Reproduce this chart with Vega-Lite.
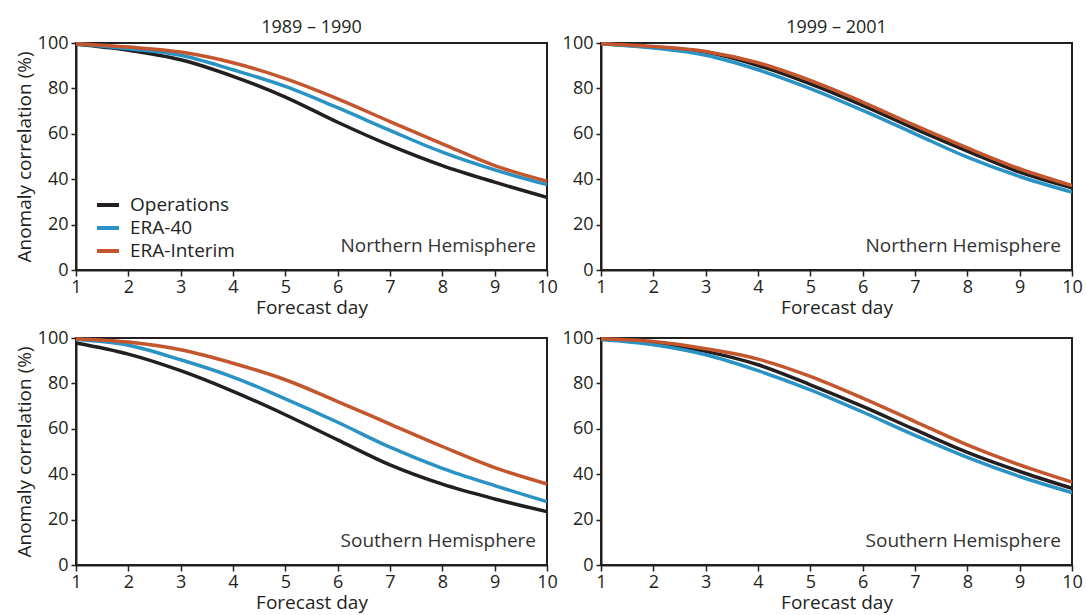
{
  "$schema": "https://vega.github.io/schema/vega-lite/v6.json",
  "padding": {"left": 14, "top": 18, "right": 4, "bottom": 0},
  "background": "white",
  "config": {
    "font": "Open Sans",
    "view": {"stroke": "#231f20", "strokeWidth": 2},
    "axis": {
      "domainColor": "#231f20", "domainWidth": 2,
      "tickColor": "#231f20", "tickWidth": 1.5, "tickSize": 6,
      "labelFont": "Open Sans", "labelFontSize": 18, "labelColor": "#231f20",
      "titleFont": "Open Sans", "titleFontSize": 19, "titleFontWeight": "normal", "titleColor": "#231f20",
      "grid": false
    },
    "title": {"font": "Open Sans", "fontSize": 18, "fontWeight": "normal", "color": "#231f20", "offset": -3}
  },
  "data": {"values": [
    {"period": "1989 – 1990", "hemi": "Northern Hemisphere", "series": "Operations", "day": 1, "ac": 99.4},
    {"period": "1989 – 1990", "hemi": "Northern Hemisphere", "series": "Operations", "day": 2, "ac": 96.8},
    {"period": "1989 – 1990", "hemi": "Northern Hemisphere", "series": "Operations", "day": 3, "ac": 92.6},
    {"period": "1989 – 1990", "hemi": "Northern Hemisphere", "series": "Operations", "day": 4, "ac": 85.3},
    {"period": "1989 – 1990", "hemi": "Northern Hemisphere", "series": "Operations", "day": 5, "ac": 76.2},
    {"period": "1989 – 1990", "hemi": "Northern Hemisphere", "series": "Operations", "day": 6, "ac": 65.1},
    {"period": "1989 – 1990", "hemi": "Northern Hemisphere", "series": "Operations", "day": 7, "ac": 54.9},
    {"period": "1989 – 1990", "hemi": "Northern Hemisphere", "series": "Operations", "day": 8, "ac": 46.0},
    {"period": "1989 – 1990", "hemi": "Northern Hemisphere", "series": "Operations", "day": 9, "ac": 38.7},
    {"period": "1989 – 1990", "hemi": "Northern Hemisphere", "series": "Operations", "day": 10, "ac": 32.0},
    {"period": "1989 – 1990", "hemi": "Northern Hemisphere", "series": "ERA-40", "day": 1, "ac": 99.7},
    {"period": "1989 – 1990", "hemi": "Northern Hemisphere", "series": "ERA-40", "day": 2, "ac": 97.5},
    {"period": "1989 – 1990", "hemi": "Northern Hemisphere", "series": "ERA-40", "day": 3, "ac": 94.6},
    {"period": "1989 – 1990", "hemi": "Northern Hemisphere", "series": "ERA-40", "day": 4, "ac": 88.2},
    {"period": "1989 – 1990", "hemi": "Northern Hemisphere", "series": "ERA-40", "day": 5, "ac": 80.9},
    {"period": "1989 – 1990", "hemi": "Northern Hemisphere", "series": "ERA-40", "day": 6, "ac": 71.5},
    {"period": "1989 – 1990", "hemi": "Northern Hemisphere", "series": "ERA-40", "day": 7, "ac": 61.5},
    {"period": "1989 – 1990", "hemi": "Northern Hemisphere", "series": "ERA-40", "day": 8, "ac": 51.9},
    {"period": "1989 – 1990", "hemi": "Northern Hemisphere", "series": "ERA-40", "day": 9, "ac": 44.1},
    {"period": "1989 – 1990", "hemi": "Northern Hemisphere", "series": "ERA-40", "day": 10, "ac": 37.6},
    {"period": "1989 – 1990", "hemi": "Northern Hemisphere", "series": "ERA-Interim", "day": 1, "ac": 99.7},
    {"period": "1989 – 1990", "hemi": "Northern Hemisphere", "series": "ERA-Interim", "day": 2, "ac": 98.2},
    {"period": "1989 – 1990", "hemi": "Northern Hemisphere", "series": "ERA-Interim", "day": 3, "ac": 96.0},
    {"period": "1989 – 1990", "hemi": "Northern Hemisphere", "series": "ERA-Interim", "day": 4, "ac": 91.3},
    {"period": "1989 – 1990", "hemi": "Northern Hemisphere", "series": "ERA-Interim", "day": 5, "ac": 84.3},
    {"period": "1989 – 1990", "hemi": "Northern Hemisphere", "series": "ERA-Interim", "day": 6, "ac": 75.4},
    {"period": "1989 – 1990", "hemi": "Northern Hemisphere", "series": "ERA-Interim", "day": 7, "ac": 65.4},
    {"period": "1989 – 1990", "hemi": "Northern Hemisphere", "series": "ERA-Interim", "day": 8, "ac": 55.6},
    {"period": "1989 – 1990", "hemi": "Northern Hemisphere", "series": "ERA-Interim", "day": 9, "ac": 46.0},
    {"period": "1989 – 1990", "hemi": "Northern Hemisphere", "series": "ERA-Interim", "day": 10, "ac": 39.1},

    {"period": "1999 – 2001", "hemi": "Northern Hemisphere", "series": "Operations", "day": 1, "ac": 99.7},
    {"period": "1999 – 2001", "hemi": "Northern Hemisphere", "series": "Operations", "day": 2, "ac": 98.2},
    {"period": "1999 – 2001", "hemi": "Northern Hemisphere", "series": "Operations", "day": 3, "ac": 96.0},
    {"period": "1999 – 2001", "hemi": "Northern Hemisphere", "series": "Operations", "day": 4, "ac": 90.1},
    {"period": "1999 – 2001", "hemi": "Northern Hemisphere", "series": "Operations", "day": 5, "ac": 82.0},
    {"period": "1999 – 2001", "hemi": "Northern Hemisphere", "series": "Operations", "day": 6, "ac": 72.5},
    {"period": "1999 – 2001", "hemi": "Northern Hemisphere", "series": "Operations", "day": 7, "ac": 62.2},
    {"period": "1999 – 2001", "hemi": "Northern Hemisphere", "series": "Operations", "day": 8, "ac": 52.4},
    {"period": "1999 – 2001", "hemi": "Northern Hemisphere", "series": "Operations", "day": 9, "ac": 43.1},
    {"period": "1999 – 2001", "hemi": "Northern Hemisphere", "series": "Operations", "day": 10, "ac": 36.2},
    {"period": "1999 – 2001", "hemi": "Northern Hemisphere", "series": "ERA-40", "day": 1, "ac": 99.7},
    {"period": "1999 – 2001", "hemi": "Northern Hemisphere", "series": "ERA-40", "day": 2, "ac": 97.8},
    {"period": "1999 – 2001", "hemi": "Northern Hemisphere", "series": "ERA-40", "day": 3, "ac": 94.6},
    {"period": "1999 – 2001", "hemi": "Northern Hemisphere", "series": "ERA-40", "day": 4, "ac": 88.2},
    {"period": "1999 – 2001", "hemi": "Northern Hemisphere", "series": "ERA-40", "day": 5, "ac": 79.9},
    {"period": "1999 – 2001", "hemi": "Northern Hemisphere", "series": "ERA-40", "day": 6, "ac": 70.3},
    {"period": "1999 – 2001", "hemi": "Northern Hemisphere", "series": "ERA-40", "day": 7, "ac": 60.0},
    {"period": "1999 – 2001", "hemi": "Northern Hemisphere", "series": "ERA-40", "day": 8, "ac": 49.7},
    {"period": "1999 – 2001", "hemi": "Northern Hemisphere", "series": "ERA-40", "day": 9, "ac": 41.2},
    {"period": "1999 – 2001", "hemi": "Northern Hemisphere", "series": "ERA-40", "day": 10, "ac": 34.3},
    {"period": "1999 – 2001", "hemi": "Northern Hemisphere", "series": "ERA-Interim", "day": 1, "ac": 99.7},
    {"period": "1999 – 2001", "hemi": "Northern Hemisphere", "series": "ERA-Interim", "day": 2, "ac": 98.5},
    {"period": "1999 – 2001", "hemi": "Northern Hemisphere", "series": "ERA-Interim", "day": 3, "ac": 96.3},
    {"period": "1999 – 2001", "hemi": "Northern Hemisphere", "series": "ERA-Interim", "day": 4, "ac": 91.3},
    {"period": "1999 – 2001", "hemi": "Northern Hemisphere", "series": "ERA-Interim", "day": 5, "ac": 83.5},
    {"period": "1999 – 2001", "hemi": "Northern Hemisphere", "series": "ERA-Interim", "day": 6, "ac": 74.0},
    {"period": "1999 – 2001", "hemi": "Northern Hemisphere", "series": "ERA-Interim", "day": 7, "ac": 63.7},
    {"period": "1999 – 2001", "hemi": "Northern Hemisphere", "series": "ERA-Interim", "day": 8, "ac": 53.8},
    {"period": "1999 – 2001", "hemi": "Northern Hemisphere", "series": "ERA-Interim", "day": 9, "ac": 44.6},
    {"period": "1999 – 2001", "hemi": "Northern Hemisphere", "series": "ERA-Interim", "day": 10, "ac": 37.2},

    {"period": "1989 – 1990", "hemi": "Southern Hemisphere", "series": "Operations", "day": 1, "ac": 97.8},
    {"period": "1989 – 1990", "hemi": "Southern Hemisphere", "series": "Operations", "day": 2, "ac": 92.9},
    {"period": "1989 – 1990", "hemi": "Southern Hemisphere", "series": "Operations", "day": 3, "ac": 85.6},
    {"period": "1989 – 1990", "hemi": "Southern Hemisphere", "series": "Operations", "day": 4, "ac": 76.5},
    {"period": "1989 – 1990", "hemi": "Southern Hemisphere", "series": "Operations", "day": 5, "ac": 66.2},
    {"period": "1989 – 1990", "hemi": "Southern Hemisphere", "series": "Operations", "day": 6, "ac": 55.1},
    {"period": "1989 – 1990", "hemi": "Southern Hemisphere", "series": "Operations", "day": 7, "ac": 44.1},
    {"period": "1989 – 1990", "hemi": "Southern Hemisphere", "series": "Operations", "day": 8, "ac": 35.6},
    {"period": "1989 – 1990", "hemi": "Southern Hemisphere", "series": "Operations", "day": 9, "ac": 29.1},
    {"period": "1989 – 1990", "hemi": "Southern Hemisphere", "series": "Operations", "day": 10, "ac": 23.5},
    {"period": "1989 – 1990", "hemi": "Southern Hemisphere", "series": "ERA-40", "day": 1, "ac": 99.3},
    {"period": "1989 – 1990", "hemi": "Southern Hemisphere", "series": "ERA-40", "day": 2, "ac": 96.8},
    {"period": "1989 – 1990", "hemi": "Southern Hemisphere", "series": "ERA-40", "day": 3, "ac": 90.4},
    {"period": "1989 – 1990", "hemi": "Southern Hemisphere", "series": "ERA-40", "day": 4, "ac": 82.8},
    {"period": "1989 – 1990", "hemi": "Southern Hemisphere", "series": "ERA-40", "day": 5, "ac": 73.2},
    {"period": "1989 – 1990", "hemi": "Southern Hemisphere", "series": "ERA-40", "day": 6, "ac": 62.9},
    {"period": "1989 – 1990", "hemi": "Southern Hemisphere", "series": "ERA-40", "day": 7, "ac": 51.9},
    {"period": "1989 – 1990", "hemi": "Southern Hemisphere", "series": "ERA-40", "day": 8, "ac": 42.6},
    {"period": "1989 – 1990", "hemi": "Southern Hemisphere", "series": "ERA-40", "day": 9, "ac": 35.0},
    {"period": "1989 – 1990", "hemi": "Southern Hemisphere", "series": "ERA-40", "day": 10, "ac": 27.9},
    {"period": "1989 – 1990", "hemi": "Southern Hemisphere", "series": "ERA-Interim", "day": 1, "ac": 99.7},
    {"period": "1989 – 1990", "hemi": "Southern Hemisphere", "series": "ERA-Interim", "day": 2, "ac": 98.2},
    {"period": "1989 – 1990", "hemi": "Southern Hemisphere", "series": "ERA-Interim", "day": 3, "ac": 94.8},
    {"period": "1989 – 1990", "hemi": "Southern Hemisphere", "series": "ERA-Interim", "day": 4, "ac": 88.9},
    {"period": "1989 – 1990", "hemi": "Southern Hemisphere", "series": "ERA-Interim", "day": 5, "ac": 81.6},
    {"period": "1989 – 1990", "hemi": "Southern Hemisphere", "series": "ERA-Interim", "day": 6, "ac": 72.0},
    {"period": "1989 – 1990", "hemi": "Southern Hemisphere", "series": "ERA-Interim", "day": 7, "ac": 62.1},
    {"period": "1989 – 1990", "hemi": "Southern Hemisphere", "series": "ERA-Interim", "day": 8, "ac": 52.2},
    {"period": "1989 – 1990", "hemi": "Southern Hemisphere", "series": "ERA-Interim", "day": 9, "ac": 42.9},
    {"period": "1989 – 1990", "hemi": "Southern Hemisphere", "series": "ERA-Interim", "day": 10, "ac": 35.7},

    {"period": "1999 – 2001", "hemi": "Southern Hemisphere", "series": "Operations", "day": 1, "ac": 99.7},
    {"period": "1999 – 2001", "hemi": "Southern Hemisphere", "series": "Operations", "day": 2, "ac": 97.8},
    {"period": "1999 – 2001", "hemi": "Southern Hemisphere", "series": "Operations", "day": 3, "ac": 94.1},
    {"period": "1999 – 2001", "hemi": "Southern Hemisphere", "series": "Operations", "day": 4, "ac": 88.2},
    {"period": "1999 – 2001", "hemi": "Southern Hemisphere", "series": "Operations", "day": 5, "ac": 79.4},
    {"period": "1999 – 2001", "hemi": "Southern Hemisphere", "series": "Operations", "day": 6, "ac": 69.9},
    {"period": "1999 – 2001", "hemi": "Southern Hemisphere", "series": "Operations", "day": 7, "ac": 59.6},
    {"period": "1999 – 2001", "hemi": "Southern Hemisphere", "series": "Operations", "day": 8, "ac": 49.6},
    {"period": "1999 – 2001", "hemi": "Southern Hemisphere", "series": "Operations", "day": 9, "ac": 41.2},
    {"period": "1999 – 2001", "hemi": "Southern Hemisphere", "series": "Operations", "day": 10, "ac": 33.8},
    {"period": "1999 – 2001", "hemi": "Southern Hemisphere", "series": "ERA-40", "day": 1, "ac": 99.3},
    {"period": "1999 – 2001", "hemi": "Southern Hemisphere", "series": "ERA-40", "day": 2, "ac": 97.0},
    {"period": "1999 – 2001", "hemi": "Southern Hemisphere", "series": "ERA-40", "day": 3, "ac": 92.6},
    {"period": "1999 – 2001", "hemi": "Southern Hemisphere", "series": "ERA-40", "day": 4, "ac": 85.6},
    {"period": "1999 – 2001", "hemi": "Southern Hemisphere", "series": "ERA-40", "day": 5, "ac": 77.2},
    {"period": "1999 – 2001", "hemi": "Southern Hemisphere", "series": "ERA-40", "day": 6, "ac": 67.4},
    {"period": "1999 – 2001", "hemi": "Southern Hemisphere", "series": "ERA-40", "day": 7, "ac": 57.1},
    {"period": "1999 – 2001", "hemi": "Southern Hemisphere", "series": "ERA-40", "day": 8, "ac": 47.4},
    {"period": "1999 – 2001", "hemi": "Southern Hemisphere", "series": "ERA-40", "day": 9, "ac": 39.0},
    {"period": "1999 – 2001", "hemi": "Southern Hemisphere", "series": "ERA-40", "day": 10, "ac": 31.9},
    {"period": "1999 – 2001", "hemi": "Southern Hemisphere", "series": "ERA-Interim", "day": 1, "ac": 99.7},
    {"period": "1999 – 2001", "hemi": "Southern Hemisphere", "series": "ERA-Interim", "day": 2, "ac": 98.5},
    {"period": "1999 – 2001", "hemi": "Southern Hemisphere", "series": "ERA-Interim", "day": 3, "ac": 95.3},
    {"period": "1999 – 2001", "hemi": "Southern Hemisphere", "series": "ERA-Interim", "day": 4, "ac": 90.7},
    {"period": "1999 – 2001", "hemi": "Southern Hemisphere", "series": "ERA-Interim", "day": 5, "ac": 83.1},
    {"period": "1999 – 2001", "hemi": "Southern Hemisphere", "series": "ERA-Interim", "day": 6, "ac": 73.5},
    {"period": "1999 – 2001", "hemi": "Southern Hemisphere", "series": "ERA-Interim", "day": 7, "ac": 63.2},
    {"period": "1999 – 2001", "hemi": "Southern Hemisphere", "series": "ERA-Interim", "day": 8, "ac": 52.9},
    {"period": "1999 – 2001", "hemi": "Southern Hemisphere", "series": "ERA-Interim", "day": 9, "ac": 44.1},
    {"period": "1999 – 2001", "hemi": "Southern Hemisphere", "series": "ERA-Interim", "day": 10, "ac": 36.5}
  ]},
  "columns": 2,
  "spacing": {"row": 68, "column": 54},
  "bounds": "flush",
  "resolve": {"scale": {"color": "independent"}, "legend": {"color": "independent"}},
  "concat": [
    {
      "width": 471, "height": 227,
      "title": {"text": "1989 – 1990"},
      "layer": [
        {
          "transform": [{"filter": "datum.period === '1989 – 1990' && datum.hemi === 'Northern Hemisphere'"}],
          "mark": {"type": "line", "strokeWidth": 3.5, "interpolate": "monotone"},
          "encoding": {
            "x": {"field": "day", "type": "quantitative", "scale": {"domain": [1, 10], "nice": false}, "axis": {"title": "Forecast day", "values": [1,2,3,4,5,6,7,8,9,10], "labelFlush": false, "labelPadding": 2, "titlePadding": 2}},
            "y": {"field": "ac", "type": "quantitative", "scale": {"domain": [0, 100], "nice": false}, "axis": {"title": "Anomaly correlation (%)", "values": [0,10,20,30,40,50,60,70,80,90,100], "labelExpr": "datum.value % 20 === 0 ? datum.label : ''", "tickSize": 5, "labelPadding": 3, "titlePadding": 3}},
            "color": {"field": "series", "type": "nominal", "sort": ["Operations", "ERA-40", "ERA-Interim"],
              "scale": {"domain": ["Operations", "ERA-40", "ERA-Interim"], "range": ["#231f20", "#2a93c4", "#c4562e"]},
              "legend": {"title": null, "orient": "none", "legendX": 19, "legendY": 149, "symbolType": "stroke", "symbolStrokeWidth": 4, "symbolSize": 484, "rowPadding": 0, "labelFontSize": 19, "labelFont": "Open Sans", "labelColor": "#231f20", "labelOffset": 9, "padding": 0}}
          }
        },
        {
          "data": {"values": [{}]},
          "mark": {"type": "text", "align": "right", "baseline": "alphabetic", "fontSize": 19, "color": "#333333"},
          "encoding": {"x": {"datum": 9.79}, "y": {"datum": 8}, "text": {"value": "Northern Hemisphere"}}
        }
      ]
    },
    {
      "width": 471, "height": 227,
      "title": {"text": "1999 – 2001"},
      "layer": [
        {
          "transform": [{"filter": "datum.period === '1999 – 2001' && datum.hemi === 'Northern Hemisphere'"}],
          "mark": {"type": "line", "strokeWidth": 3.5, "interpolate": "monotone"},
          "encoding": {
            "x": {"field": "day", "type": "quantitative", "scale": {"domain": [1, 10], "nice": false}, "axis": {"title": "Forecast day", "values": [1,2,3,4,5,6,7,8,9,10], "labelFlush": false, "labelPadding": 2, "titlePadding": 2}},
            "y": {"field": "ac", "type": "quantitative", "scale": {"domain": [0, 100], "nice": false}, "axis": {"title": null, "values": [0,10,20,30,40,50,60,70,80,90,100], "labelExpr": "datum.value % 20 === 0 ? datum.label : ''", "tickSize": 5, "labelPadding": 3}},
            "color": {"field": "series", "type": "nominal", "scale": {"domain": ["Operations", "ERA-40", "ERA-Interim"], "range": ["#231f20", "#2a93c4", "#c4562e"]}, "legend": null}
          }
        },
        {
          "data": {"values": [{}]},
          "mark": {"type": "text", "align": "right", "baseline": "alphabetic", "fontSize": 19, "color": "#333333"},
          "encoding": {"x": {"datum": 9.79}, "y": {"datum": 8}, "text": {"value": "Northern Hemisphere"}}
        }
      ]
    },
    {
      "width": 471, "height": 227,
      "layer": [
        {
          "transform": [{"filter": "datum.period === '1989 – 1990' && datum.hemi === 'Southern Hemisphere'"}],
          "mark": {"type": "line", "strokeWidth": 3.5, "interpolate": "monotone"},
          "encoding": {
            "x": {"field": "day", "type": "quantitative", "scale": {"domain": [1, 10], "nice": false}, "axis": {"title": "Forecast day", "values": [1,2,3,4,5,6,7,8,9,10], "labelFlush": false, "labelPadding": 2, "titlePadding": 2}},
            "y": {"field": "ac", "type": "quantitative", "scale": {"domain": [0, 100], "nice": false}, "axis": {"title": "Anomaly correlation (%)", "values": [0,10,20,30,40,50,60,70,80,90,100], "labelExpr": "datum.value % 20 === 0 ? datum.label : ''", "tickSize": 5, "labelPadding": 3, "titlePadding": 3}},
            "color": {"field": "series", "type": "nominal", "scale": {"domain": ["Operations", "ERA-40", "ERA-Interim"], "range": ["#231f20", "#2a93c4", "#c4562e"]}, "legend": null}
          }
        },
        {
          "data": {"values": [{}]},
          "mark": {"type": "text", "align": "right", "baseline": "alphabetic", "fontSize": 19, "color": "#333333"},
          "encoding": {"x": {"datum": 9.79}, "y": {"datum": 8}, "text": {"value": "Southern Hemisphere"}}
        }
      ]
    },
    {
      "width": 471, "height": 227,
      "layer": [
        {
          "transform": [{"filter": "datum.period === '1999 – 2001' && datum.hemi === 'Southern Hemisphere'"}],
          "mark": {"type": "line", "strokeWidth": 3.5, "interpolate": "monotone"},
          "encoding": {
            "x": {"field": "day", "type": "quantitative", "scale": {"domain": [1, 10], "nice": false}, "axis": {"title": "Forecast day", "values": [1,2,3,4,5,6,7,8,9,10], "labelFlush": false, "labelPadding": 2, "titlePadding": 2}},
            "y": {"field": "ac", "type": "quantitative", "scale": {"domain": [0, 100], "nice": false}, "axis": {"title": null, "values": [0,10,20,30,40,50,60,70,80,90,100], "labelExpr": "datum.value % 20 === 0 ? datum.label : ''", "tickSize": 5, "labelPadding": 3}},
            "color": {"field": "series", "type": "nominal", "scale": {"domain": ["Operations", "ERA-40", "ERA-Interim"], "range": ["#231f20", "#2a93c4", "#c4562e"]}, "legend": null}
          }
        },
        {
          "data": {"values": [{}]},
          "mark": {"type": "text", "align": "right", "baseline": "alphabetic", "fontSize": 19, "color": "#333333"},
          "encoding": {"x": {"datum": 9.79}, "y": {"datum": 8}, "text": {"value": "Southern Hemisphere"}}
        }
      ]
    }
  ]
}
